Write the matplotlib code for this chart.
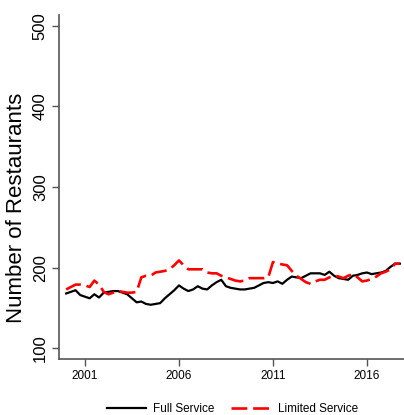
import numpy as np
import matplotlib
matplotlib.use("Agg")
import matplotlib.pyplot as plt

# quarterly series, 2000Q1 .. 2017Q4
start_year = 2000
full_service = [168, 170, 172, 166, 164, 162, 167, 163, 169, 170,
                171, 171, 169, 167, 162, 157, 158, 155, 154, 155,
                156, 162, 167, 172, 178, 174, 171, 173, 177, 174,
                173, 178, 182, 185, 177, 175, 174, 173, 173, 174,
                175, 178, 181, 182, 181, 183, 180, 185, 189, 188,
                187, 190, 193, 193, 193, 191, 195, 190, 187, 186,
                185, 190, 191, 193, 194, 192, 193, 194, 196, 201,
                205, 205]
limited_service = [173, 176, 179, 179, 178, 176, 184, 179, 170, 167,
                   169, 171, 170, 169, 169, 170, 188, 190, 190, 194,
                   195, 196, 198, 203, 209, 203, 198, 198, 198, 198,
                   194, 193, 193, 190, 188, 186, 184, 183, 184, 187,
                   187, 187, 187, 188, 207, 205, 204, 203, 196, 190,
                   186, 182, 180, 183, 185, 185, 188, 190, 189, 187,
                   190, 192, 188, 183, 184, 186, 189, 193, 195, 198,
                   205, 205]
x_ticks = [2001, 2006, 2011, 2016]
y_ticks = [100, 200, 300, 400, 500]

t = start_year + np.arange(len(full_service)) / 4.0

plt.rcParams['font.family'] = ['Liberation Sans', 'DejaVu Sans']

fig = plt.figure(figsize=(4.04, 4.15), dpi=100)
ax = fig.add_axes([59/404, 1 - 359/415, 1 - 59/404, (359 - 15)/415])

l1, = ax.plot(t, full_service, color='black', lw=1.6, label='Full Service')
l2, = ax.plot(t, limited_service, color='#ff0000', lw=1.9, dashes=(6, 2.2),
              label='Limited Service')

ax.set_xlim(1999.62, 2017.97)
ax.set_ylim(86.7, 513.5)
ax.set_xticks(x_ticks)
ax.set_xticklabels([str(v) for v in x_ticks], fontsize=8.5)
ax.set_yticks(y_ticks)
ax.set_yticklabels([str(v) for v in y_ticks], rotation=90, va='center',
                   fontsize=12)

for s in ['top', 'right']:
    ax.spines[s].set_visible(False)
for s in ['left', 'bottom']:
    ax.spines[s].set_color('#555555')
    ax.spines[s].set_linewidth(1.2)
ax.tick_params(length=5, width=1, color='#555555', pad=3)

fig.text(16.5/404, 0.499, 'Number of Restaurants', rotation=90,
         ha='center', va='center', fontsize=16)

fig.legend(handles=[l1, l2], loc='center', bbox_to_anchor=(0.575, 0.0145),
           ncol=2, frameon=False, handlelength=3.3, handletextpad=0.6,
           columnspacing=1.45, prop={'size': 8.5})

fig.savefig('out.png', dpi=100)
